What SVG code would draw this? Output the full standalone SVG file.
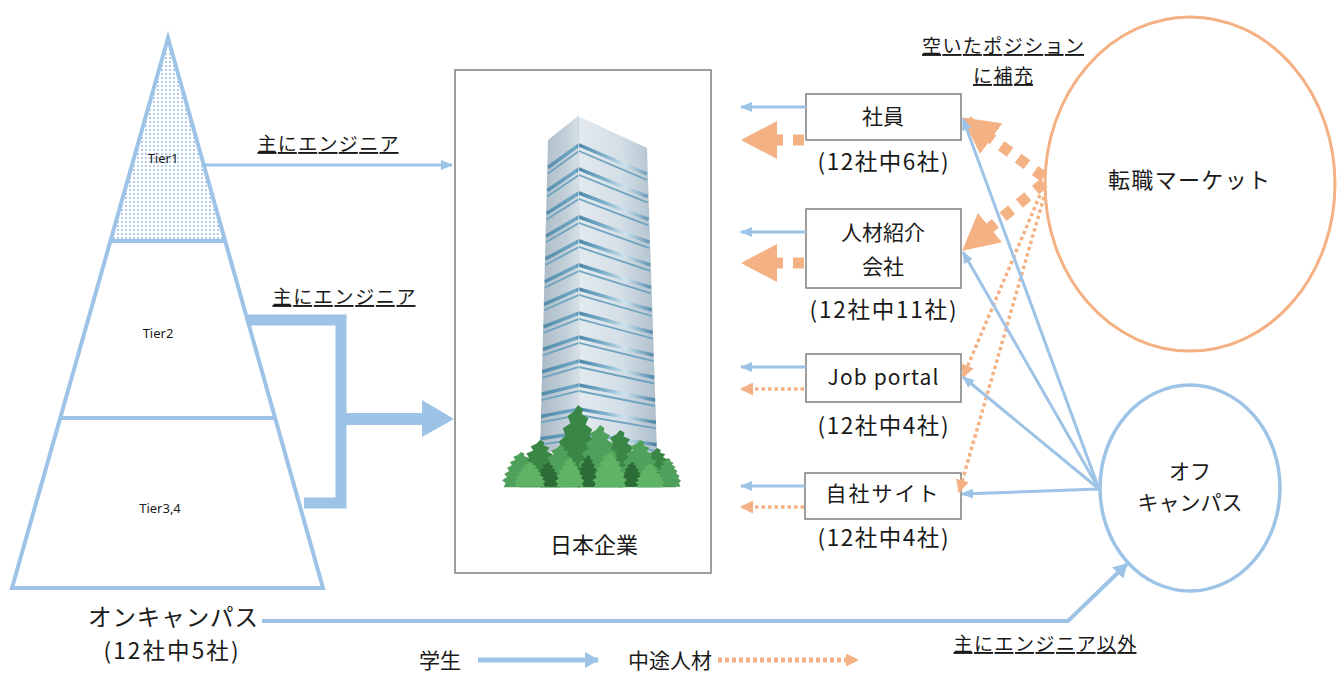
<svg xmlns="http://www.w3.org/2000/svg" xmlns:xlink="http://www.w3.org/1999/xlink" width="1344" height="673" viewBox="0 0 1344 673">
  <style>
    text { font-family: "Noto Sans CJK JP", "Noto Sans", sans-serif; fill: #1a1a1a; }
    .lbl { font-size: 21px; text-anchor: middle; }
    .cnt { font-size: 22.5px; text-anchor: middle; }
    .big { font-size: 22px; text-anchor: middle; }
    .ul { font-size: 19px; text-anchor: middle; text-decoration: underline; }
    .tier { font-family: "Noto Sans", "DejaVu Sans", sans-serif; font-size: 13px; text-anchor: middle; }
    .box { fill: #ffffff; stroke: #7f7f7f; stroke-width: 1.5; }
    .blue { fill: none; stroke: #9dc3e6; stroke-width: 3; }
    .orangeDot { fill: none; stroke: #f4b183; stroke-width: 3.5; stroke-dasharray: 3.5 3; }
    .orangeDash { fill: none; stroke: #f4b183; stroke-width: 11; stroke-dasharray: 11 10; }
  </style>
  <defs>
    <pattern id="dots" width="4" height="4" patternUnits="userSpaceOnUse">
      <circle cx="2" cy="2" r="0.95" fill="#8db6df"/>
    </pattern>
    <marker id="hBlue" viewBox="0 0 12 10" refX="11" refY="5" markerWidth="12" markerHeight="10" markerUnits="userSpaceOnUse" orient="auto">
      <path d="M0,0 L12,5 L0,10 z" fill="#9dc3e6"/>
    </marker>
    <marker id="hBlueL" viewBox="0 0 14 16" refX="13" refY="8" markerWidth="14" markerHeight="16" markerUnits="userSpaceOnUse" orient="auto">
      <path d="M0,0 L14,8 L0,16 z" fill="#9dc3e6"/>
    </marker>
    <marker id="hOrange" viewBox="0 0 13 13" refX="12" refY="6.5" markerWidth="13" markerHeight="13" markerUnits="userSpaceOnUse" orient="auto">
      <path d="M0,0 L13,6.5 L0,13 z" fill="#f4b183"/>
    </marker>
    <marker id="hOrangeBig" viewBox="0 0 36 38" refX="35" refY="19" markerWidth="36" markerHeight="38" markerUnits="userSpaceOnUse" orient="auto">
      <path d="M0,0 L36,19 L0,38 z" fill="#f4b183"/>
    </marker>
    <linearGradient id="faceL" gradientUnits="userSpaceOnUse" x1="540" y1="0" x2="579" y2="0">
      <stop offset="0" stop-color="#a9b9c5"/>
      <stop offset="0.7" stop-color="#c4d1da"/>
      <stop offset="1" stop-color="#d6e0e7"/>
    </linearGradient>
    <linearGradient id="faceR" gradientUnits="userSpaceOnUse" x1="579" y1="0" x2="657" y2="0">
      <stop offset="0" stop-color="#e3eaef"/>
      <stop offset="0.55" stop-color="#d3dee6"/>
      <stop offset="1" stop-color="#aebfcc"/>
    </linearGradient>
    <linearGradient id="stripeG" gradientUnits="userSpaceOnUse" x1="540" y1="0" x2="658" y2="0">
      <stop offset="0" stop-color="#4f89a8"/>
      <stop offset="0.3" stop-color="#72a8c3"/>
      <stop offset="0.33" stop-color="#4b88ab"/>
      <stop offset="0.55" stop-color="#7fb1cb"/>
      <stop offset="0.72" stop-color="#cfe3ee"/>
      <stop offset="1" stop-color="#3c7aa0"/>
    </linearGradient>
    <clipPath id="towerClip">
      <polygon points="548,140 578,116 647,148 657,452 540,452"/>
    </clipPath>
    <!-- floor bands: left face rises to the corner, right face falls away -->
    <path id="bands" d="M548,167.5 L579,145 L647,174 M547.2,190.6 L579,169 L647.7,196.7 M546.6,213.4 L579,193 L648.5,219.4 M545.9,236.3 L579,217 L649.3,242.1 M545.3,259 L579,241 L650.2,264.8 M544.7,281.7 L579,265 L651,287.4 M544,304.3 L579,289 L651.8,310 M543.4,326.8 L579,313 L652.6,332.5 M542.8,349.3 L579,337 L653.4,355.1 M542.1,371.8 L579,361 L654.2,377.5 M541.5,394.1 L579,385 L655.1,400 M540.9,416.4 L579,409 L655.9,422.4 M540.3,438.7 L579,433 L656.7,444.8"/>
    <!-- one bushy tree, base width ~48, height 80 -->
    <path id="tree" d="M0,0 L5,4 L4,9 L11,13 L8,19 L15,24 L12,30 L19,36 L16,43 L23,49 L20,56 L26,63 L22,70 L25,80 L-25,80 L-22,71 L-27,64 L-20,57 L-24,50 L-17,43 L-20,36 L-13,30 L-16,23 L-8,18 L-11,11 L-4,6 Z"/>
  </defs>

  <rect width="1344" height="673" fill="#ffffff"/>

  <!-- recruiting-tier pyramid -->
  <g id="pyramid">
    <polygon points="168,38 111,240 225,240" fill="url(#dots)"/>
    <polygon points="168,38 12,588 323,588" fill="none" stroke="#9dc3e6" stroke-width="4" stroke-linejoin="miter"/>
    <line x1="111" y1="241" x2="225" y2="241" stroke="#9dc3e6" stroke-width="4"/>
    <line x1="61" y1="418" x2="275" y2="418" stroke="#9dc3e6" stroke-width="4"/>
    <text class="tier" x="163" y="163">Tier1</text>
    <text class="tier" x="158" y="338">Tier2</text>
    <text class="tier" x="160" y="513">Tier3,4</text>
  </g>

  <!-- Japanese company -->
  <g id="company">
    <rect class="box" x="455" y="70" width="256" height="503"/>
    <g id="tower">
      <polygon points="548,140 578,116 579,452 540,452" fill="url(#faceL)"/>
      <polygon points="578,116 647,148 657,452 579,452" fill="url(#faceR)"/>
      <g clip-path="url(#towerClip)" fill="none">
        <use xlink:href="#bands" stroke="url(#stripeG)" stroke-width="3.5"/>
        <use xlink:href="#bands" transform="translate(0,6)" stroke="#6fa3c0" stroke-width="1.8"/>
      </g>
      <line x1="578.5" y1="116" x2="579" y2="452" stroke="#c9d6df" stroke-width="1"/>
    </g>
    <g id="trees">
      <g fill="#3a8646">
        <use xlink:href="#tree" transform="translate(540,440) scale(0.85,0.59)"/>
        <use xlink:href="#tree" transform="translate(578,405) scale(0.95,1.02)"/>
        <use xlink:href="#tree" transform="translate(620,430) scale(0.9,0.71)"/>
        <use xlink:href="#tree" transform="translate(657,448) scale(0.75,0.49)"/>
      </g>
      <g fill="#4fa05a">
        <use xlink:href="#tree" transform="translate(521,452) scale(0.7,0.44)"/>
        <use xlink:href="#tree" transform="translate(560,445) scale(0.8,0.53)"/>
        <use xlink:href="#tree" transform="translate(600,425) scale(0.9,0.78)"/>
        <use xlink:href="#tree" transform="translate(640,440) scale(0.85,0.59)"/>
        <use xlink:href="#tree" transform="translate(668,458) scale(0.5,0.36)"/>
      </g>
      <g fill="#2c6d37">
        <use xlink:href="#tree" transform="translate(548,462) scale(0.5,0.31)"/>
        <use xlink:href="#tree" transform="translate(588,455) scale(0.45,0.4)"/>
        <use xlink:href="#tree" transform="translate(632,462) scale(0.45,0.31)"/>
      </g>
      <g fill="#5fb365">
        <use xlink:href="#tree" transform="translate(530,462) scale(0.6,0.31)"/>
        <use xlink:href="#tree" transform="translate(570,458) scale(0.55,0.36)"/>
        <use xlink:href="#tree" transform="translate(610,452) scale(0.65,0.44)"/>
        <use xlink:href="#tree" transform="translate(650,464) scale(0.55,0.29)"/>
      </g>
    </g>
    <text class="big" x="594" y="553">日本企業</text>
  </g>

  <!-- recruiting channels -->
  <g id="employee">
    <rect class="box" x="806" y="94" width="155" height="46"/>
    <text class="lbl" x="883" y="124">社員</text>
    <text class="cnt" x="883" y="170" textLength="131">(12社中6社)</text>
  </g>
  <g id="agency">
    <rect class="box" x="806" y="209" width="155" height="79"/>
    <text class="lbl" x="883" y="240">人材紹介</text>
    <text class="lbl" x="883" y="274">会社</text>
    <text class="cnt" x="883" y="318" textLength="147">(12社中11社)</text>
  </g>
  <g id="jobportal">
    <rect class="box" x="806" y="354" width="155" height="48"/>
    <text class="lbl" x="883" y="385" textLength="111">Job portal</text>
    <text class="cnt" x="883" y="434" textLength="131">(12社中4社)</text>
  </g>
  <g id="ownsite">
    <rect class="box" x="805" y="473" width="156" height="46"/>
    <text class="lbl" x="882" y="501" textLength="113">自社サイト</text>
    <text class="cnt" x="883" y="546" textLength="131">(12社中4社)</text>
  </g>

  <!-- talent pools -->
  <g id="market">
    <ellipse cx="1190" cy="184" rx="145" ry="167" fill="none" stroke="#f4b183" stroke-width="3"/>
    <text class="big" x="1189" y="188" textLength="162">転職マーケット</text>
  </g>
  <g id="offcampus">
    <ellipse cx="1190" cy="488" rx="90" ry="103" fill="none" stroke="#9dc3e6" stroke-width="3.5"/>
    <text class="lbl" x="1190" y="479">オフ</text>
    <text class="lbl" x="1190" y="510">キャンパス</text>
  </g>
  <g id="oncampus">
    <text class="big" x="173" y="626" style="font-size:23.5px" textLength="170">オンキャンパス</text>
    <text class="cnt" x="171" y="659" textLength="135">(12社中5社)</text>
  </g>

  <!-- connectors -->
  <g id="connectors">
    <!-- pyramid to company -->
    <line class="blue" x1="205" y1="165" x2="452" y2="165" marker-end="url(#hBlue)"/>
    <polyline points="248,320 341,320 341,503 304,503" fill="none" stroke="#9dc3e6" stroke-width="11"/>
    <line x1="341" y1="419" x2="424" y2="419" stroke="#9dc3e6" stroke-width="12"/>
    <polygon points="422,400 454,419 422,437" fill="#9dc3e6"/>

    <!-- channels to company -->
    <line class="blue" x1="806" y1="107" x2="741" y2="107" marker-end="url(#hBlue)"/>
    <line class="orangeDash" x1="804" y1="140" x2="742" y2="140" marker-end="url(#hOrangeBig)"/>
    <line class="blue" x1="806" y1="232" x2="741" y2="232" marker-end="url(#hBlue)"/>
    <line class="orangeDash" x1="804" y1="263" x2="742" y2="263" marker-end="url(#hOrangeBig)"/>
    <line class="blue" x1="806" y1="367" x2="741" y2="367" marker-end="url(#hBlue)"/>
    <line class="orangeDot" x1="804" y1="389" x2="741" y2="389" marker-end="url(#hOrange)"/>
    <line class="blue" x1="805" y1="486" x2="741" y2="486" marker-end="url(#hBlue)"/>
    <line class="orangeDot" x1="804" y1="507" x2="741" y2="507" marker-end="url(#hOrange)"/>

    <!-- job market to channels -->
    <line class="orangeDash" x1="1044" y1="177" x2="963" y2="118" marker-end="url(#hOrangeBig)"/>
    <line class="orangeDash" x1="1044" y1="183" x2="963" y2="250" marker-end="url(#hOrangeBig)"/>
    <line class="orangeDot" x1="1040" y1="195" x2="963" y2="377" marker-end="url(#hOrange)"/>
    <line class="orangeDot" x1="1044" y1="197" x2="959" y2="492" marker-end="url(#hOrange)"/>

    <!-- off campus to channels -->
    <line class="blue" x1="1099" y1="489" x2="963" y2="119" marker-end="url(#hBlue)"/>
    <line class="blue" x1="1099" y1="489" x2="963" y2="252" marker-end="url(#hBlue)"/>
    <line class="blue" x1="1099" y1="489" x2="963" y2="377" marker-end="url(#hBlue)"/>
    <line class="blue" x1="1099" y1="489" x2="962" y2="494" marker-end="url(#hBlue)"/>

    <!-- on campus to off campus -->
    <polyline points="262,621 1068,621 1127,564" fill="none" stroke="#9dc3e6" stroke-width="4" marker-end="url(#hBlueL)"/>
  </g>

  <!-- route notes -->
  <g id="notes">
    <text class="ul" x="328" y="151" textLength="141">主にエンジニア</text>
    <text class="ul" x="344" y="304" textLength="143">主にエンジニア</text>
    <text class="ul" x="1003" y="53" textLength="162">空いたポジション</text>
    <text class="ul" x="1003" y="83" textLength="60">に補充</text>
    <text class="ul" x="1045" y="651" textLength="183">主にエンジニア以外</text>
  </g>

  <!-- legend -->
  <g id="legend">
    <text class="lbl" x="440" y="668">学生</text>
    <line x1="478" y1="660" x2="598" y2="660" stroke="#9dc3e6" stroke-width="5" marker-end="url(#hBlueL)"/>
    <text class="lbl" x="670" y="668">中途人材</text>
    <line x1="718" y1="660" x2="858" y2="660" stroke="#f4b183" stroke-width="5" stroke-dasharray="4 3" marker-end="url(#hOrange)"/>
  </g>
</svg>
